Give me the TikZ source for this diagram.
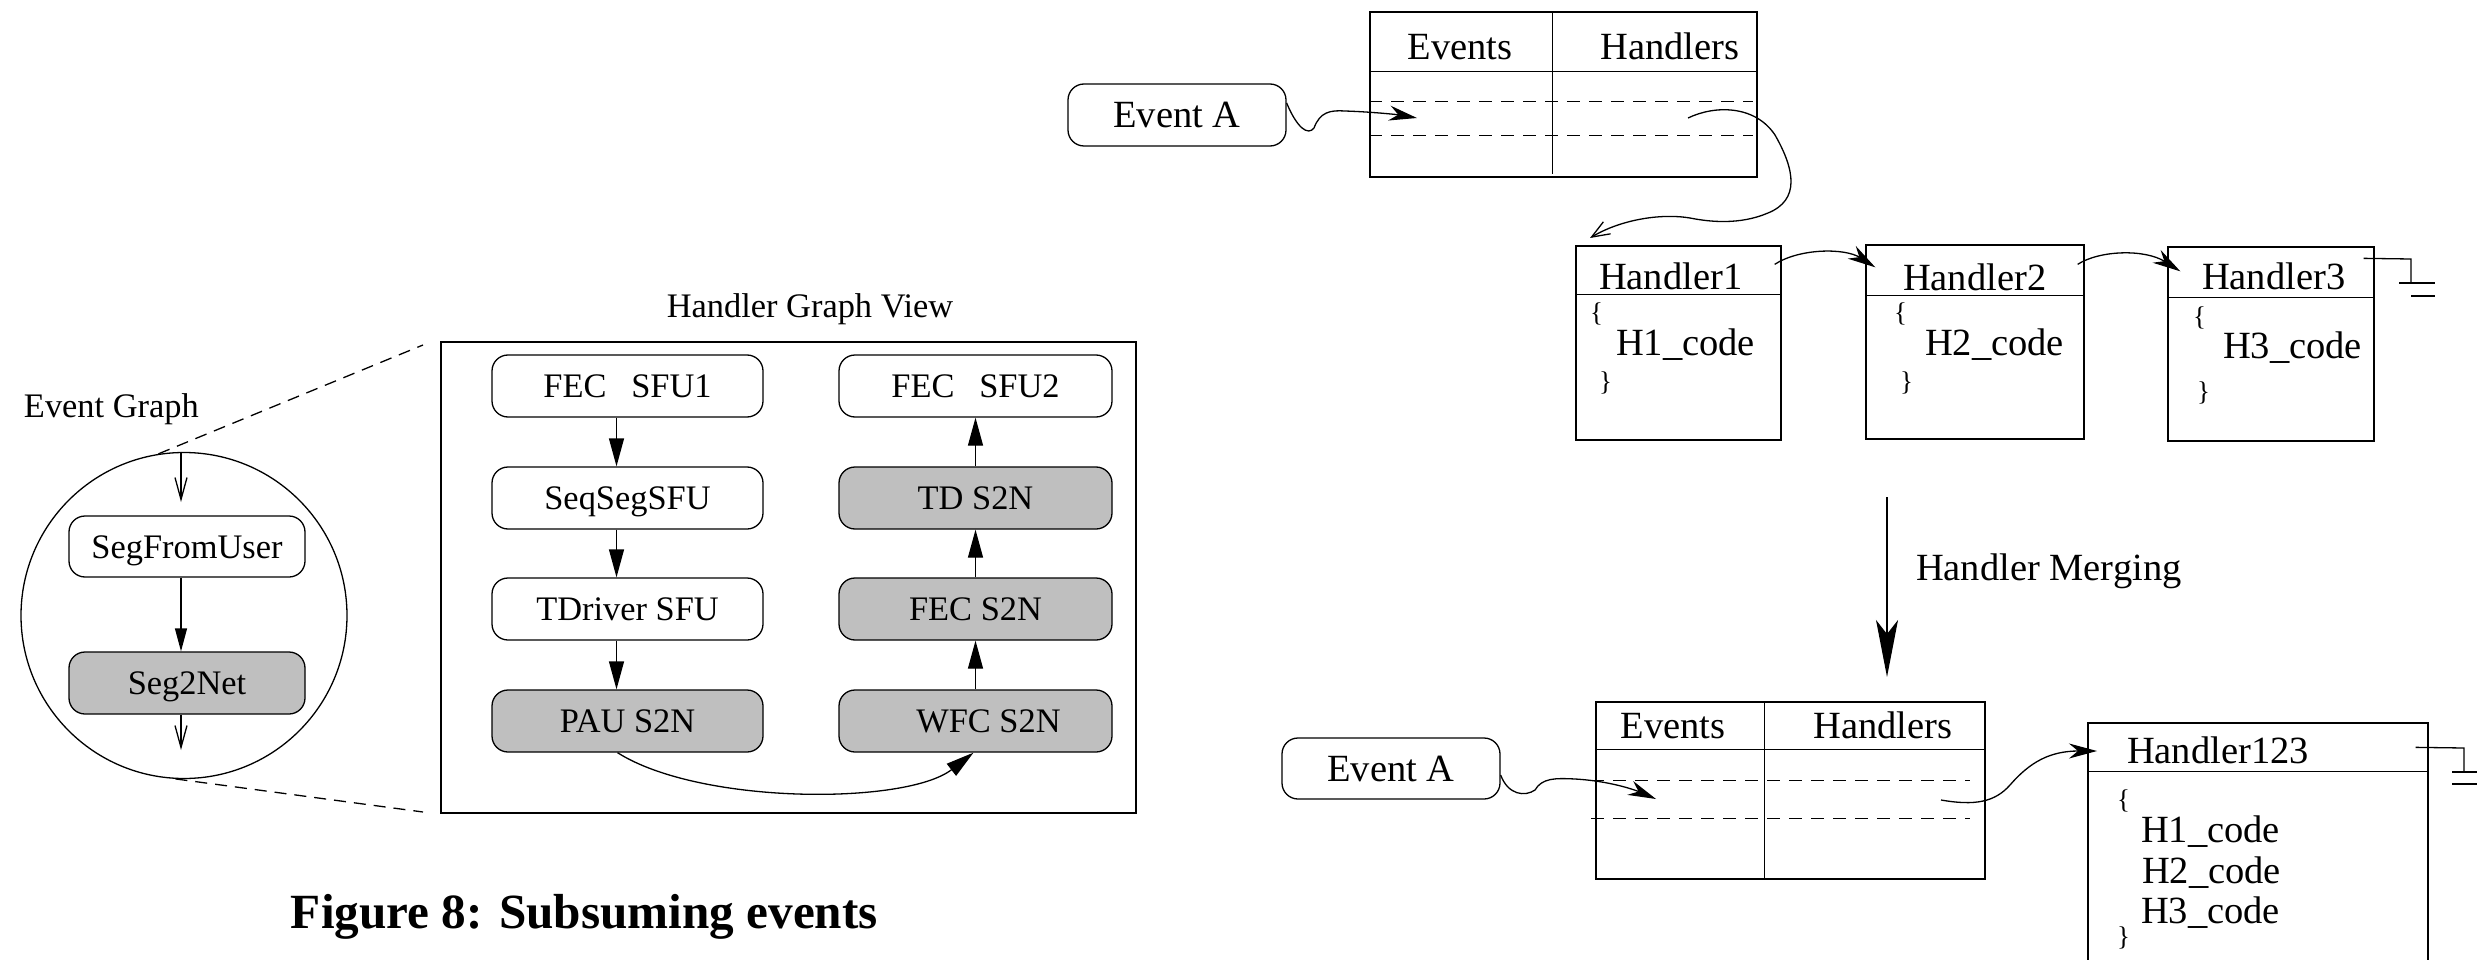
\documentclass[tikz,border=0pt]{standalone}
\usepackage{fontspec}
\setmainfont{Liberation Serif}
\usetikzlibrary{arrows.meta,calc}
\definecolor{boxgray}{HTML}{BFBFBF}
\tikzset{
  lf/.style={font=\fontsize{34.4pt}{40pt}\selectfont},
  rf/.style={font=\fontsize{38.5pt}{44pt}\selectfont},
  bracef/.style={font=\fontsize{27pt}{30pt}\selectfont},
  rbox/.style={draw, rounded corners=16pt, inner sep=0pt, text height=23pt, text depth=0pt, lf},
  gbox/.style={rbox, fill=boxgray},
  ebox/.style={draw, rounded corners=16pt, inner sep=0pt, text height=25.5pt, text depth=0pt, rf},
  plain/.style={draw, inner sep=0pt},
  tri/.style={-{Triangle[length=28pt,width=15pt]}},
  smalltri/.style={-{Triangle[length=23pt,width=12pt]}},
  vee/.style={-{Straight Barb[length=22pt,width=12pt]}},
  barb/.style={-{Straight Barb[length=18pt,width=14pt]}},
  stl/.style={-{Stealth[length=28pt,width=15pt,inset=9pt]}},
  bigstl/.style={-{Stealth[length=57pt,width=22pt,inset=14pt]}},
  zoomdash/.style={dash pattern=on 12pt off 8pt},
  rowdash/.style={dash pattern=on 13pt off 9pt},
}
\begin{document}
\begin{tikzpicture}[x=1pt,y=-1pt,line width=1.3pt]
\clip (0,0) rectangle (2487,960);

% ---------- Event graph ----------
\node[lf, anchor=base west] (egl) at (20,417) {Event Graph};
\node[draw, circle, minimum size=326pt, inner sep=0pt] (eg) at (184,615.5) {};
\node[rbox, minimum width=236pt, minimum height=61pt] (sfu) at (187,546.5) {SegFromUser};
\node[gbox, minimum width=236pt, minimum height=62pt] (s2n) at (187,683) {Seg2Net};
\coordinate (egin) at (181,502);
\coordinate (egout) at (181,750);
\draw[vee] ($(eg.north)+(-3,0)$) -- (egin);
\draw[smalltri] ($(sfu.south)+(-6,0)$) -- ($(s2n.north)+(-6,0)$);
\draw[vee] ($(s2n.south)+(-6,0)$) -- (egout);

% zoom lines
\coordinate (zu) at (423,345);
\coordinate (zl) at (423,812);
\draw[zoomdash] (eg.99) -- (zu);
\draw[zoomdash] (eg.267) -- (zl);

% ---------- Handler graph view ----------
\node[lf, anchor=base] (hgvt) at (810,317) {Handler Graph View};
\node[draw, line width=2.6pt, minimum width=695pt, minimum height=471pt, inner sep=0pt] (hgv) at (788.5,577.5) {};

\node[rbox, minimum width=271pt, minimum height=62pt] (L1) at (627.5,386) {FEC\hspace{0.72em}SFU1};
\node[rbox, minimum width=271pt, minimum height=62pt] (L2) at (627.5,498) {SeqSegSFU};
\node[rbox, minimum width=271pt, minimum height=62pt] (L3) at (627.5,609) {TDriver SFU};
\node[gbox, minimum width=271pt, minimum height=62pt] (L4) at (627.5,721) {PAU S2N};

\node[rbox, minimum width=273pt, minimum height=62pt] (R1) at (975.5,386) {FEC\hspace{0.72em}SFU2};
\node[gbox, minimum width=273pt, minimum height=62pt] (R2) at (975.5,498) {TD S2N};
\node[gbox, minimum width=273pt, minimum height=62pt] (R3) at (975.5,609) {FEC S2N};
\node[gbox, minimum width=273pt, minimum height=62pt] (R4) at (975.5,721) {\hspace{26pt}WFC S2N};

\draw[tri] ($(L1.south)+(-11,0)$) -- ($(L2.north)+(-11,0)$);
\draw[tri] ($(L2.south)+(-11,0)$) -- ($(L3.north)+(-11,0)$);
\draw[tri] ($(L3.south)+(-11,0)$) -- ($(L4.north)+(-11,0)$);
\draw[tri] (R4.north) -- (R3.south);
\draw[tri] (R3.north) -- (R2.south);
\draw[tri] (R2.north) -- (R1.south);
\draw[tri] ($(L4.south)+(-10,0)$) .. controls (700,805) and (906,805) .. ($(R4.south)+(-2,0)$);

% ---------- Caption ----------
\node[anchor=base west, font=\fontsize{49.2pt}{56pt}\selectfont\bfseries] (cap) at (287,928) {Figure 8: Subsuming events};

% ---------- Top: event table ----------
\node[ebox, minimum width=218pt, minimum height=62pt] (ea1) at (1177,115) {Event A\hspace{20pt}};
\node[plain, minimum width=387pt, minimum height=165pt] (t1) at (1563.5,94.5) {};
\draw ($(t1.north west)+(183,0)$) -- ($(t1.south west)+(183,-4)$);
\draw ($(t1.north west)+(0,60)$) -- ($(t1.north east)+(0,60)$);
\draw[rowdash] ($(t1.north west)+(0,90)$) -- ($(t1.north east)+(-5,90)$);
\draw[rowdash] ($(t1.north west)+(0,124)$) -- ($(t1.north east)+(-5,124)$);
\node[rf, anchor=base] (t1e) at (1460,60) {Events};
\node[rf, anchor=base] (t1h) at (1670,60) {Handlers};

\coordinate (p1) at (1417,118);
\draw[stl] ($(ea1.east)+(0,-12)$) .. controls (1297,128) and (1308,136) .. (1314,128)
   .. controls (1320,112) and (1330,110) .. (1345,111)
   .. controls (1375,112) and (1400,115) .. (p1);

% ---------- Handler list ----------
\node[plain, minimum width=205pt, minimum height=194pt] (H1) at (1678.5,343) {};
\node[plain, minimum width=218pt, minimum height=194pt] (H2) at (1975,342) {};
\node[plain, minimum width=206pt, minimum height=194pt] (H3) at (2271,344) {};
\draw ($(H1.north west)+(0,49)$) -- ($(H1.north east)+(0,49)$);
\draw ($(H2.north west)+(0,51)$) -- ($(H2.north east)+(0,51)$);
\draw ($(H3.north west)+(0,51)$) -- ($(H3.north east)+(0,51)$);

\node[rf, anchor=base west] (h1t) at (1595,289) {Handler1};
\node[bracef, anchor=base west] (h1o) at (1586,321) {\{};
\node[rf, anchor=base west] (h1c) at (1612,355) {H1\_code};
\node[bracef, anchor=base west] (h1e) at (1595,390) {\}};

\node[rf, anchor=base west] (h2t) at (1899,290) {Handler2};
\node[bracef, anchor=base west] (h2o) at (1890,321) {\{};
\node[rf, anchor=base west] (h2c) at (1921,355) {H2\_code};
\node[bracef, anchor=base west] (h2e) at (1896,390) {\}};

\node[rf, anchor=base west] (h3t) at (2198,289) {Handler3};
\node[bracef, anchor=base west] (h3o) at (2189,325) {\{};
\node[rf, anchor=base west] (h3c) at (2219,358) {H3\_code};
\node[bracef, anchor=base west] (h3e) at (2193,400) {\}};

\coordinate (t1out) at (1688,118);
\coordinate (h1in) at (1590,238);
\draw[barb] (t1out) .. controls (1715,105) and (1755,105) .. (1775,135)
   .. controls (1795,170) and (1800,200) .. (1768,213)
   .. controls (1740,225) and (1710,222) .. (1690,218)
   .. controls (1660,213) and (1620,220) .. (h1in);

\draw[stl] ($(H1.north east)+(-7,19)$) .. controls (1800,248) and (1845,248) .. ($(H2.north west)+(10,23)$);
\draw[stl] ($(H2.north east)+(-7,20)$) .. controls (2100,250) and (2145,249) .. ($(H3.north west)+(13,25)$);

% ground 1
\coordinate (g1a) at (2411,259);
\coordinate (g1b) at (2411,283);
\draw ($(H3.north east)+(-11,12)$) -- (g1a) -- (g1b);
\draw ($(g1b)+(-12,0)$) -- ($(g1b)+(24,0)$);
\draw[line width=2.2pt] ($(g1b)+(0,13)$) -- ($(g1b)+(24,13)$);

% ---------- Handler merging ----------
\coordinate (mtop) at (1887,497);
\coordinate (mbot) at (1887,677);
\draw[bigstl] (mtop) -- (mbot);
\node[rf, anchor=base west] (mlab) at (1912,580) {Handler Merging};

% ---------- Bottom: merged table ----------
\node[ebox, minimum width=218pt, minimum height=61pt] (ea2) at (1391,768.5) {Event A};
\node[plain, minimum width=389pt, minimum height=177pt] (t2) at (1790.5,790.5) {};
\draw ($(t2.north west)+(169,0)$) -- ($(t2.south west)+(169,0)$);
\draw ($(t2.north west)+(0,48)$) -- ($(t2.north east)+(0,48)$);
\draw[rowdash] ($(t2.north west)+(-4,79)$) -- ($(t2.north east)+(-16,79)$);
\draw[rowdash] ($(t2.north west)+(-4,117)$) -- ($(t2.north east)+(-16,117)$);
\node[rf, anchor=base] (t2e) at (1673,738) {Events};
\node[rf, anchor=base] (t2h) at (1883,738) {Handlers};

\coordinate (p2) at (1656,799);
\draw[stl] ($(ea2.east)+(0,6.5)$) .. controls (1508,795) and (1525,797) .. (1535,790)
   .. controls (1542,778) and (1555,778) .. (1575,779)
   .. controls (1610,781) and (1635,790) .. (p2);

\node[plain, minimum width=340pt, minimum height=260pt] (H123) at (2258,853) {};
\draw ($(H123.north west)+(0,49)$) -- ($(H123.north east)+(0,49)$);
\node[rf, anchor=base west] (h123t) at (2123,763) {Handler123};
\node[bracef, anchor=base west] (h123o) at (2113,808) {\{};
\node[rf, anchor=base west] (h123a) at (2137,842) {H1\_code};
\node[rf, anchor=base west] (h123b) at (2138,883) {H2\_code};
\node[rf, anchor=base west] (h123c) at (2137,923) {H3\_code};
\node[bracef, anchor=base west] (h123e) at (2113,945) {\}};

\coordinate (t2out) at (1941,800);
\coordinate (h123in) at (2097,751);
\draw[stl] (t2out) .. controls (1975,806) and (1995,802) .. (2010,785)
   .. controls (2030,762) and (2050,751) .. (h123in);

% ground 2
\coordinate (g2a) at (2464,748);
\coordinate (g2b) at (2464,772);
\draw ($(H123.north east)+(-13,25)$) -- (g2a) -- (g2b);
\draw ($(g2b)+(-12,0)$) -- ($(g2b)+(13,0)$);
\draw ($(g2b)+(-12,12)$) -- ($(g2b)+(13,12)$);
\end{tikzpicture}
\end{document}
